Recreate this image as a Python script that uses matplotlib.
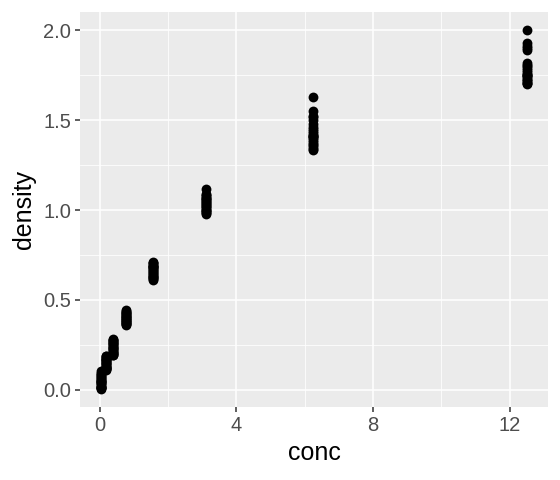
import matplotlib
matplotlib.use("Agg")
import matplotlib.pyplot as plt

# DNase assay: conc levels and optical density readings (11 runs x 2 replicates)
CONC_LEVELS = [0.04882812, 0.1953125, 0.390625, 0.78125, 1.5625, 3.125, 6.25, 12.5]

DENSITY = {
    0.04882812: [0.017, 0.018, 0.045, 0.050, 0.070, 0.068, 0.011, 0.016, 0.035, 0.025,
                 0.047, 0.057, 0.062, 0.076, 0.094, 0.105, 0.004, 0.009, 0.030, 0.041,
                 0.083, 0.088],
    0.1953125: [0.121, 0.124, 0.137, 0.123, 0.173, 0.165, 0.114, 0.118, 0.143, 0.150,
                0.155, 0.160, 0.171, 0.180, 0.186, 0.190, 0.112, 0.128, 0.133, 0.147,
                0.176, 0.168],
    0.390625: [0.206, 0.215, 0.225, 0.207, 0.277, 0.248, 0.196, 0.199, 0.230, 0.238,
               0.244, 0.252, 0.262, 0.270, 0.281, 0.275, 0.192, 0.210, 0.219, 0.233,
               0.258, 0.266],
    0.78125: [0.377, 0.374, 0.401, 0.383, 0.434, 0.426, 0.362, 0.366, 0.390, 0.395,
              0.405, 0.410, 0.418, 0.422, 0.440, 0.445, 0.368, 0.380, 0.388, 0.397,
              0.412, 0.430],
    1.5625: [0.614, 0.609, 0.672, 0.681, 0.703, 0.689, 0.620, 0.630, 0.640, 0.650,
             0.660, 0.665, 0.690, 0.695, 0.708, 0.712, 0.625, 0.635, 0.645, 0.655,
             0.676, 0.685],
    3.125: [1.019, 1.001, 1.116, 1.078, 1.067, 1.062, 0.980, 0.990, 1.000, 1.010,
            1.025, 1.030, 1.040, 1.045, 1.050, 1.055, 0.985, 0.995, 1.035, 1.070,
            1.085, 1.092],
    6.25: [1.334, 1.364, 1.554, 1.526, 1.480, 1.450, 1.340, 1.350, 1.380, 1.390,
           1.400, 1.410, 1.420, 1.430, 1.440, 1.460, 1.370, 1.500, 1.520, 1.630,
           1.405, 1.415],
    12.5: [1.730, 1.710, 1.932, 1.914, 1.781, 1.708, 1.700, 1.720, 1.740, 1.750,
           1.760, 1.770, 1.790, 1.800, 1.810, 1.820, 1.890, 1.900, 2.003, 1.745,
           1.755, 1.725],
}

X_TICKS = [0, 4, 8, 12]
Y_TICKS = [0.0, 0.5, 1.0, 1.5, 2.0]
Y_TICK_LABELS = ["0.0", "0.5", "1.0", "1.5", "2.0"]


def main():
    plt.rcParams["font.family"] = ["Liberation Sans", "DejaVu Sans"]

    conc = []
    density = []
    for c in CONC_LEVELS:
        for d in DENSITY[c]:
            conc.append(c)
            density.append(d)

    fig = plt.figure(figsize=(5.6, 4.8), dpi=100)
    ax = fig.add_axes([80 / 560, 1 - 407 / 480, (548 - 80) / 560, (407 - 12) / 480])
    ax.set_facecolor("#EBEBEB")

    xmin, xmax = min(conc), max(conc)
    ymin, ymax = min(density), max(density)
    xpad = (xmax - xmin) * 0.05
    ypad = (ymax - ymin) * 0.05
    ax.set_xlim(xmin - xpad, xmax + xpad)
    ax.set_ylim(ymin - ypad, ymax + ypad)

    # minor grid lines
    for v in [2, 6, 10]:
        ax.axvline(v, color="white", lw=0.55, zorder=0)
    for v in [0.25, 0.75, 1.25, 1.75]:
        ax.axhline(v, color="white", lw=0.55, zorder=0)
    for v in X_TICKS:
        ax.axvline(v, color="white", lw=1.1, zorder=0)
    for v in Y_TICKS:
        ax.axhline(v, color="white", lw=1.1, zorder=0)

    ax.scatter(conc, density, s=50, color="black", linewidths=0, zorder=3)

    ax.set_xticks(X_TICKS)
    ax.set_xticklabels([str(t) for t in X_TICKS])
    ax.set_yticks(Y_TICKS)
    ax.set_yticklabels(Y_TICK_LABELS)
    ax.tick_params(colors="#333333", labelcolor="#4D4D4D", labelsize=14.5,
                   length=3.5, width=1.1, direction="out", pad=3)
    for s in ax.spines.values():
        s.set_visible(False)

    ax.set_xlabel("conc", fontsize=18, color="black", labelpad=4)
    ax.set_ylabel("density", fontsize=18, color="black", labelpad=5)

    fig.savefig("out.png", dpi=100)


if __name__ == "__main__":
    main()
